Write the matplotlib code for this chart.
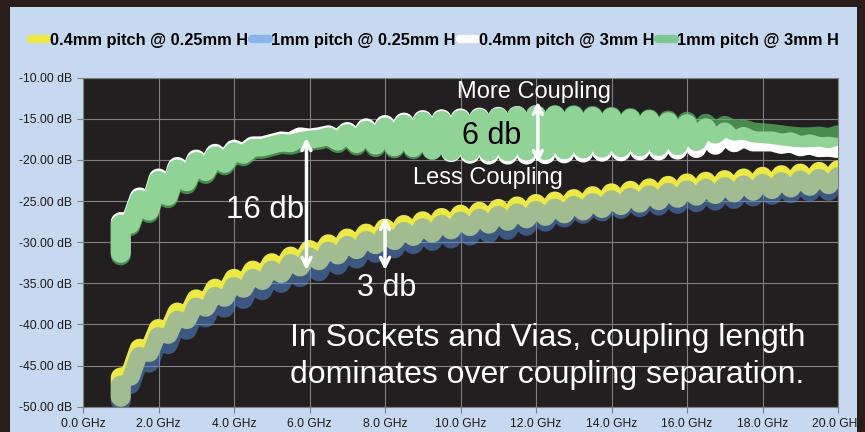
import numpy as np
import matplotlib
matplotlib.use("Agg")
import matplotlib.pyplot as plt
from matplotlib.lines import Line2D
from matplotlib.patches import Rectangle

# frequency grid of the sweep (GHz): ripple peaks every 0.5 GHz, troughs in between
peak_ghz = np.arange(1.0, 20.01, 0.5)
trough_ghz = peak_ghz[:-1] + 0.25

labels = ["0.4mm pitch @ 0.25mm H", "1mm pitch @ 0.25mm H",
          "0.4mm pitch @ 3mm H", "1mm pitch @ 3mm H"]

# 0.4mm pitch @ 0.25mm H  (dB)
yel_start = -48.8
yel_peaks = [-46.45, -42.95, -40.55, -38.55, -36.95, -35.65, -34.45, -33.45, -32.55, -31.75,
             -30.95, -30.25, -29.55, -28.95, -28.35, -27.9, -27.45, -27.05, -26.65, -26.3,
             -25.95, -25.65, -25.35, -25.05, -24.75, -24.4, -24.05, -23.75, -23.45, -23.15,
             -22.85, -22.65, -22.45, -22.25, -22.05, -21.85, -21.65, -21.45, -21.25]
yel_troughs = [-46.25, -43.35, -41.15, -39.35, -37.85, -36.65, -35.55, -34.6, -33.75, -32.95,
               -32.2, -31.5, -30.85, -30.25, -29.75, -29.25, -28.85, -28.45, -28.05, -27.75,
               -27.4, -27.1, -26.8, -26.5, -26.15, -25.85, -25.5, -25.2, -24.9, -24.6,
               -24.35, -24.15, -23.95, -23.75, -23.55, -23.35, -23.15, -22.95]

# 1mm pitch @ 0.25mm H
blu_start = -49.3
blu_peaks = [-47.45, -43.95, -41.55, -39.55, -37.95, -36.65, -35.45, -34.45, -33.45, -32.65,
             -31.85, -31.15, -30.45, -29.85, -29.25, -28.75, -28.3, -27.9, -27.5, -27.15,
             -26.8, -26.5, -26.2, -25.9, -25.6, -25.25, -24.9, -24.6, -24.3, -24.0,
             -23.7, -23.5, -23.3, -23.1, -22.9, -22.7, -22.5, -22.3, -22.1]
blu_troughs = [-47.25, -44.65, -42.4, -40.65, -39.15, -37.95, -36.9, -35.85, -34.95, -34.25,
               -33.55, -32.75, -32.0, -31.3, -30.75, -30.25, -29.85, -29.55, -29.2, -28.9,
               -28.5, -28.0, -27.5, -27.0, -26.55, -26.25, -25.95, -25.75, -25.55, -25.35,
               -25.15, -24.95, -24.75, -24.45, -24.25, -24.05, -23.85, -23.75]

# 0.4mm pitch @ 3mm H
wht_start = -31.3
wht_peaks = [-27.55, -24.55, -22.25, -20.85, -19.95, -19.25, -18.75, -18.35, -18.05, -17.85,
             -17.4, -17.0, -16.6, -16.15, -15.75, -15.45, -15.15, -15.05, -14.95, -14.85,
             -14.75, -14.65, -14.55, -14.6, -14.65, -14.75, -14.85, -15.0, -15.15, -15.4,
             -15.65, -16.15, -16.65, -17.2, -17.75, -18.05, -18.35, -18.45, -18.55]
wht_troughs = [-27.75, -26.15, -24.35, -22.6, -21.35, -20.35, -19.25, -18.35, -17.75, -17.25,
               -17.25, -17.65, -17.95, -18.15, -18.35, -18.45, -18.75, -19.05, -19.25, -19.35,
               -19.35, -19.35, -19.3, -19.2, -19.1, -19.0, -18.95, -18.85, -18.85, -18.75,
               -18.55, -18.15, -17.85, -17.75, -17.75, -17.85, -18.1, -18.4]

# 1mm pitch @ 3mm H
grn_start = -31.6
grn_peaks = [-27.85, -24.85, -22.55, -21.15, -20.25, -19.55, -19.05, -18.65, -18.35, -18.15,
             -17.65, -17.25, -16.85, -16.45, -16.05, -15.7, -15.35, -15.25, -15.15, -15.0,
             -14.85, -14.7, -14.55, -14.55, -14.55, -14.65, -14.75, -14.9, -15.05, -15.2,
             -15.35, -15.6, -15.85, -16.3, -16.75, -17.0, -17.25, -17.15, -17.0]
grn_troughs = [-28.05, -26.45, -24.65, -22.95, -21.7, -20.65, -19.55, -18.65, -18.05, -17.85,
               -17.55, -17.95, -18.25, -18.45, -18.6, -18.7, -18.8, -18.9, -18.95, -18.95,
               -18.95, -18.85, -18.8, -18.7, -18.6, -18.5, -18.45, -18.35, -18.3, -18.2,
               -17.7, -16.8, -16.45, -16.65, -16.85, -17.15, -17.25, -17.35]

x_ticks = np.arange(0, 20.1, 2)
y_ticks = np.arange(-50, -9, 5)


def zigzag(start, peaks, troughs):
    xs, ys = [1.0], [start]
    for i, p in enumerate(peaks):
        xs.append(peak_ghz[i])
        ys.append(p)
        if i < len(troughs):
            xs.append(trough_ghz[i])
            ys.append(troughs[i])
    return xs, ys


sans = ["Liberation Sans", "DejaVu Sans"]

fig = plt.figure(figsize=(8.65, 4.32), dpi=100, facecolor="#2a1d1b")
fig.patches.append(Rectangle((10 / 865, 0), 847 / 865, 425 / 432, transform=fig.transFigure,
                             facecolor="#c6d9f1", edgecolor="none", zorder=-10))

ax = fig.add_axes([83 / 865, 1 - 406.7 / 432, 755 / 865, 329 / 432])
ax.set_facecolor("#231f20")

styles = [("#eee843", 1.0), ("#5591e0", 0.5), ("#ffffff", 1.0), ("#5cbe66", 0.68)]
series = [(yel_start, yel_peaks, yel_troughs), (blu_start, blu_peaks, blu_troughs),
          (wht_start, wht_peaks, wht_troughs), (grn_start, grn_peaks, grn_troughs)]
for (col, a), (s, p, t) in zip(styles, series):
    xs, ys = zigzag(s, p, t)
    ax.plot(xs, ys, color=col, alpha=a, lw=14.4, solid_joinstyle="round",
            solid_capstyle="round", zorder=3)

ax.set_xlim(0, 20)
ax.set_ylim(-50, -10)
ax.set_xticks(x_ticks)
ax.set_yticks(y_ticks)
ax.set_xticklabels([f"{v:.1f} GHz" for v in x_ticks], family=sans, fontsize=8.7)
ax.set_yticklabels([f"{v:.2f} dB" for v in y_ticks], family=sans, fontsize=8.7)
ax.tick_params(colors="#808080", labelcolor="#1a1a1a", length=4, width=0.8, pad=4)
ax.grid(True, color="#808080", lw=0.8, zorder=1)
for sp in ax.spines.values():
    sp.set_color("#808080")
    sp.set_linewidth(0.8)

# annotations
arrow = dict(arrowstyle="<->", color="white", lw=2.5, mutation_scale=16, shrinkA=0, shrinkB=0)
ax.annotate("", xy=(12.05, -12.9), xytext=(12.05, -20.4), arrowprops=arrow, zorder=5)
ax.annotate("", xy=(5.92, -17.3), xytext=(5.92, -33.4), arrowprops=arrow, zorder=5)
ax.annotate("", xy=(8.0, -26.9), xytext=(8.0, -33.4), arrowprops=arrow, zorder=5)

ax.text(11.96, -11.74, "More Coupling", color="white", fontsize=17, family=sans,
        ha="center", va="center", zorder=6)
ax.text(10.74, -22.2, "Less Coupling", color="white", fontsize=17, family=sans,
        ha="center", va="center", zorder=6)
ax.text(10.82, -17.1, "6 db", color="black", fontsize=22, family=sans,
        ha="center", va="center", zorder=6)
ax.text(4.81, -26.1, "16 db", color="white", fontsize=22.5, family=sans,
        ha="center", va="center", zorder=6)
ax.text(8.03, -35.6, "3 db", color="white", fontsize=22, family=sans,
        ha="center", va="center", zorder=6)
ax.text(12.3, -43.95, "In Sockets and Vias, coupling length\ndominates over coupling separation.",
        color="white", fontsize=23, family=sans, ha="center", va="center",
        linespacing=1.3, zorder=6)

handles = [Line2D([], [], color=c, alpha=a, lw=6, solid_capstyle="round") for c, a in styles]
fig.legend(handles, labels, loc="center", bbox_to_anchor=(0.503, 0.907), ncol=4,
           frameon=False, handlelength=1.0, handletextpad=0.15, columnspacing=0.25,
           prop=dict(family=sans, weight="bold", size=11.8))

fig.savefig("out.png", dpi=100, facecolor=fig.get_facecolor())
